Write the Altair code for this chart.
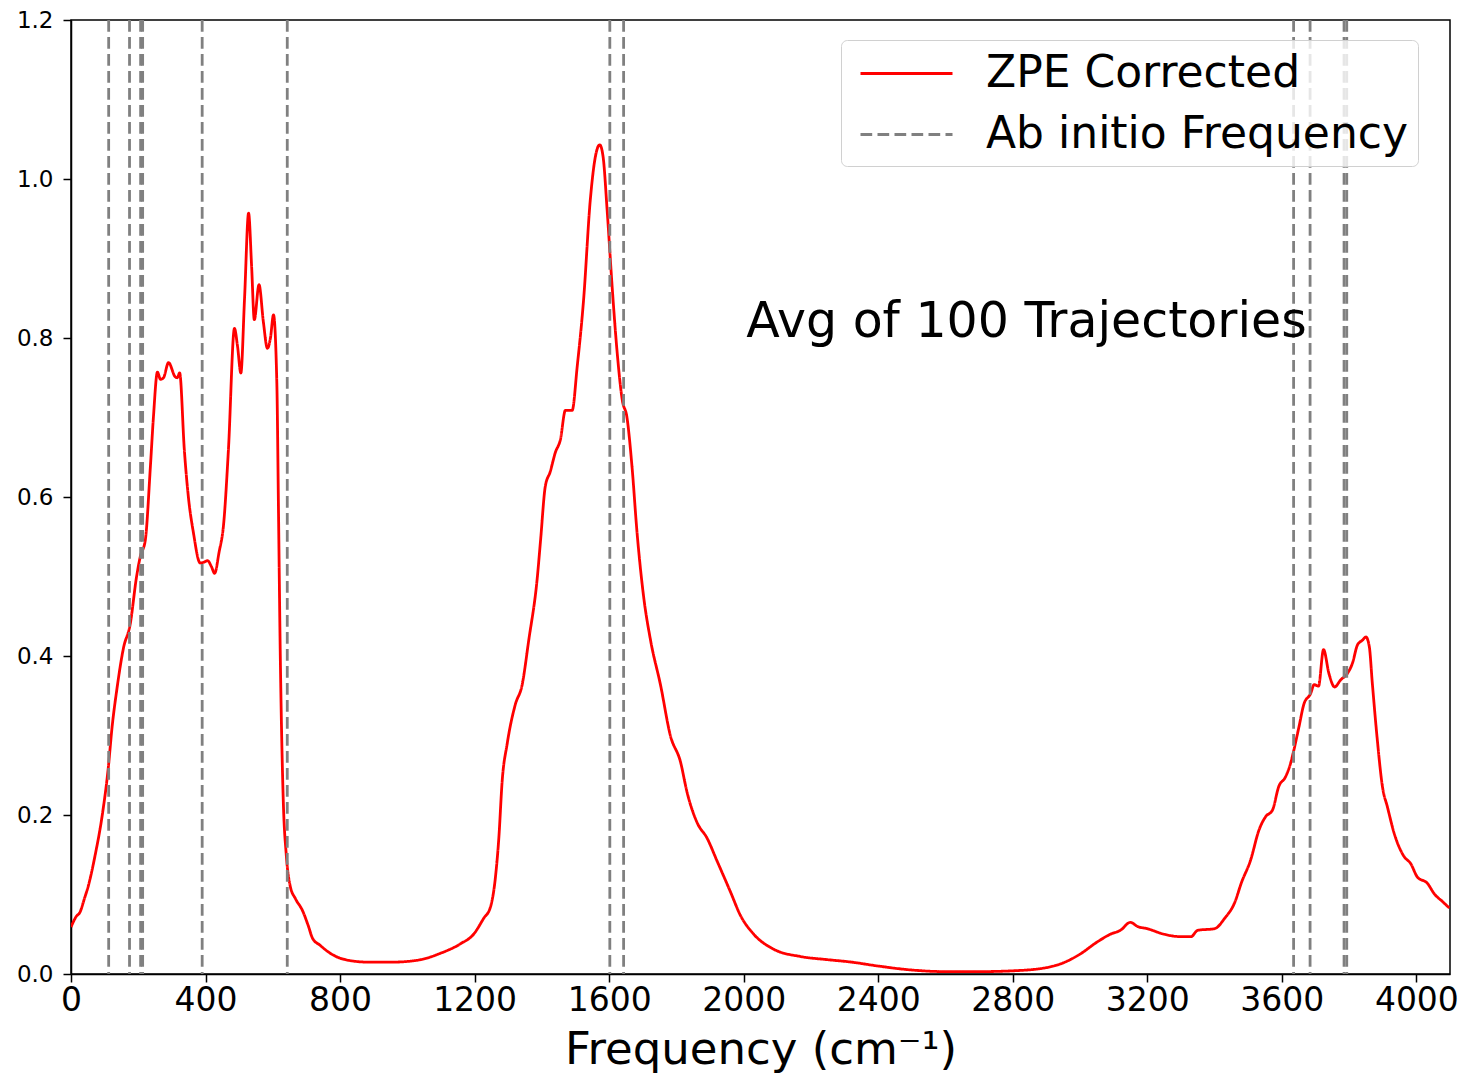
import altair as alt
import pandas as pd

freq = [0, 15, 27, 40, 51, 72, 93, 111, 122, 137, 156, 176, 195, 206, 221, 236, 245, 257, 266, 275,
        290, 310, 316, 323, 337, 349, 364, 384, 395, 406, 418, 427, 440, 454, 468, 486, 495, 505, 516, 528,
        537, 545, 559, 572, 584, 593, 602, 612, 617, 622, 631, 640, 652, 667, 688, 706, 718, 741, 771, 816,
        880, 960, 1039, 1098, 1158, 1197, 1227, 1247, 1262, 1272, 1282, 1297, 1321, 1341, 1361, 1386, 1396, 1410, 1425, 1440,
        1455, 1470, 1490, 1505, 1524, 1544, 1559, 1572, 1582, 1594, 1609, 1624, 1639, 1653, 1668, 1683, 1703, 1723, 1753, 1782,
        1812, 1832, 1862, 1891, 1921, 1961, 1990, 2030, 2090, 2169, 2250, 2320, 2400, 2500, 2600, 2700, 2800, 2900, 2950, 3000,
        3050, 3090, 3120, 3150, 3170, 3200, 3250, 3300, 3330, 3350, 3400, 3430, 3460, 3480, 3507, 3532, 3552, 3572, 3591, 3611,
        3626, 3636, 3651, 3666, 3686, 3696, 3709, 3724, 3740, 3757, 3775, 3795, 3810, 3825, 3840, 3850, 3860, 3869, 3884, 3899,
        3914, 3934, 3963, 3983, 4003, 4033, 4053, 4078, 4098]
intensity = [0.059, 0.072, 0.078, 0.095, 0.11, 0.15, 0.2, 0.26, 0.31, 0.36, 0.41, 0.44, 0.50, 0.525, 0.546, 0.638, 0.70, 0.757, 0.748, 0.75,
             0.769, 0.751, 0.75, 0.756, 0.659, 0.60, 0.555, 0.517, 0.518, 0.52, 0.512, 0.504, 0.53, 0.567, 0.659, 0.812, 0.79, 0.756, 0.85, 0.957,
             0.89, 0.823, 0.867, 0.82, 0.787, 0.80, 0.829, 0.743, 0.58, 0.408, 0.22, 0.15, 0.11, 0.095, 0.08, 0.06, 0.045, 0.036, 0.026, 0.018,
             0.015, 0.015, 0.018, 0.026, 0.038, 0.05, 0.07, 0.084, 0.122, 0.171, 0.243, 0.29, 0.339, 0.363, 0.42, 0.497, 0.545, 0.613, 0.632, 0.656,
             0.672, 0.709, 0.709, 0.764, 0.848, 0.974, 1.028, 1.043, 1.028, 0.961, 0.864, 0.781, 0.722, 0.70, 0.638, 0.555, 0.473, 0.42, 0.363, 0.30,
             0.267, 0.228, 0.19, 0.171, 0.142, 0.103, 0.074, 0.05, 0.031, 0.022, 0.018, 0.015, 0.01, 0.005, 0.003, 0.003, 0.004, 0.008, 0.014, 0.025,
             0.04, 0.05, 0.055, 0.065, 0.06, 0.057, 0.05, 0.047, 0.047, 0.055, 0.057, 0.07, 0.09, 0.115, 0.143, 0.181, 0.198, 0.206, 0.236, 0.248,
             0.265, 0.282, 0.311, 0.34, 0.353, 0.364, 0.362, 0.408, 0.378, 0.361, 0.37, 0.378, 0.391, 0.414, 0.42, 0.424, 0.412, 0.366, 0.294, 0.236,
             0.21, 0.177, 0.148, 0.139, 0.122, 0.114, 0.101, 0.091, 0.083]
ab_initio = [112, 174, 207, 213, 390, 643, 1602, 1643, 3635, 3684, 3785, 3793]

series_names = ["ZPE Corrected", "Ab initio Frequency"]
annotation = "Avg of 100 Trajectories"

spec_df = pd.DataFrame({"freq": freq, "intensity": intensity, "series": series_names[0]})
lines_df = pd.DataFrame({"freq": ab_initio, "series": series_names[1]})
ann_df = pd.DataFrame({"freq": [2841], "intensity": [0.82], "text": [annotation]})

xscale = alt.Scale(domain=[0, 4100], nice=False, zero=False)
yscale = alt.Scale(domain=[0, 1.2], nice=False)

color = alt.Color("series:N", scale=alt.Scale(domain=series_names, range=["#ff0000", "#808080"]),
                  legend=alt.Legend(title=None, orient="none", legendX=770, legendY=20,
                                    symbolType="M-2,0H2", symbolSize=2116, symbolStrokeWidth=2.8,
                                    symbolOffset=32, labelLimit=1000,
                                    labelFontSize=44, labelFont="DejaVu Sans", labelColor="black",
                                    labelOffset=55, rowPadding=14, padding=9,
                                    fillColor="rgba(255,255,255,0.8)", strokeColor="#d0d0d0",
                                    cornerRadius=6))
dash = alt.StrokeDash("series:N", scale=alt.Scale(domain=series_names, range=[[1, 0], [11.7, 5.3]]), legend=None)

x_axis = alt.Axis(title="Frequency (cm⁻¹)", values=list(range(0, 4001, 400)), format="d",
                  labelFontSize=33, titleFontSize=45, titlePadding=10, grid=False,
                  tickSize=8, labelPadding=2, labelFlush=False)
y_axis = alt.Axis(title=None, values=[0, 0.2, 0.4, 0.6, 0.8, 1.0, 1.2], format=".1f",
                  labelFontSize=23, grid=False, tickSize=8, labelPadding=10, labelFlush=False)

line = alt.Chart(spec_df).mark_line(strokeWidth=2.8, interpolate="monotone", clip=True).encode(
    x=alt.X("freq:Q", scale=xscale, axis=x_axis),
    y=alt.Y("intensity:Q", scale=yscale, axis=y_axis),
    color=color,
    strokeDash=dash,
)

rules = alt.Chart(lines_df).mark_rule(strokeWidth=2.8).encode(
    x=alt.X("freq:Q", scale=xscale),
    color=color,
    strokeDash=dash,
)

text = alt.Chart(ann_df).mark_text(fontSize=49, font="DejaVu Sans", color="black", align="center",
                                   baseline="middle").encode(
    x=alt.X("freq:Q", scale=xscale),
    y=alt.Y("intensity:Q", scale=yscale),
    text="text:N",
)

chart = alt.layer(line, rules, text).properties(
    width=1379, height=954,
    autosize=alt.AutoSizeParams(type="none"),
    padding={"left": 71, "top": 20, "right": 13, "bottom": 99},
    background="white",
).configure_view(stroke="black", strokeWidth=1.5).configure_axis(
    labelFont="DejaVu Sans", titleFont="DejaVu Sans", labelColor="black", titleColor="black",
    domainColor="black", tickColor="black", domainWidth=1.5, tickWidth=1.5, titleFontWeight="normal"
)

chart.save("out.html", embed_options={"renderer": "svg", "actions": False})
